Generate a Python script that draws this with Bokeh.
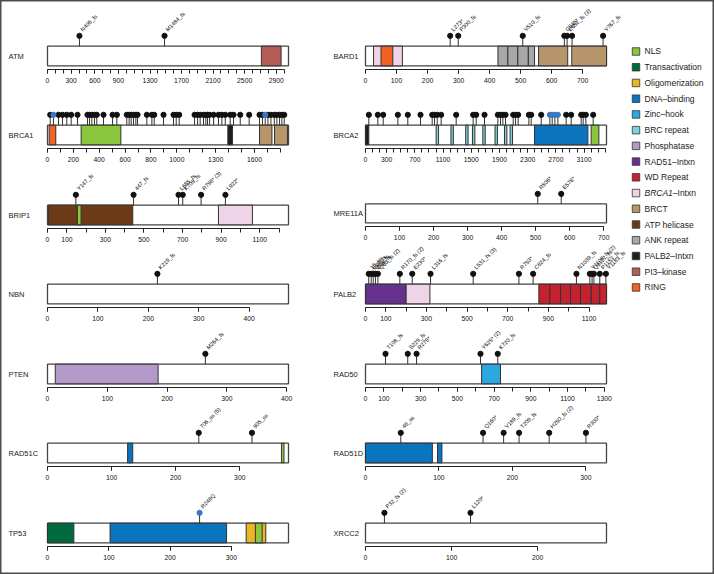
import math
from bokeh.plotting import figure
from bokeh.models import Range1d, FixedTicker, Label
from bokeh.layouts import row, column
from bokeh.embed import file_html
from bokeh.resources import INLINE
from bokeh.core.properties import value

FONT = "Liberation Sans"

# ---------------- data ----------------
DOMAIN_COLORS = {
    "NLS": "#8CC63F", "Transactivation": "#006A3C", "Oligomerization": "#EBB523",
    "DNA-binding": "#0A74BE", "Zinc-hook": "#2AA8E0", "BRC repeat": "#7DD0DF",
    "Phosphatase": "#B49ACB", "RAD51-Intxn": "#66308F", "WD Repeat": "#C4222E",
    "BRCA1-Intxn": "#EFD3E6", "BRCT": "#B8966B", "ATP helicase": "#6C3A16",
    "ANK repeat": "#A7A8AA", "PALB2-Intxn": "#1E1E1E", "PI3-kinase": "#B55C54",
    "RING": "#F26222",
}
LEGEND_KEYS = ["NLS", "Transactivation", "Oligomerization", "DNA-binding", "Zinc-hook",
               "BRC repeat", "Phosphatase", "RAD51-Intxn", "WD Repeat", "BRCA1-Intxn",
               "BRCT", "ATP helicase", "ANK repeat", "PALB2-Intxn", "PI3-kinase", "RING"]
LEGEND_TEXT = ["NLS", "Transactivation", "Oligomerization", "DNA\u2013binding", "Zinc\u2013hook",
               "BRC repeat", "Phosphatase", "RAD51\u2013Intxn", "WD Repeat", "BRCA1\u2013Intxn",
               "BRCT", "ATP helicase", "ANK repeat", "PALB2\u2013Intxn", "PI3\u2013kinase", "RING"]

ATM_LEN = 3056
ATM_TICKS = [0, 300, 600, 900, 1300, 1700, 2100, 2500, 2900]
ATM_DOM = [("PI3-kinase", 2712, 2962)]
ATM_MUT = [405, 1484]
ATM_MUT_LAB = ["N405_fs", "M1484_fs"]
ATM_MIS = []
ATM_MIS_LAB = []

BRCA1_LEN = 1863
BRCA1_TICKS = [0, 200, 400, 600, 800, 1000, 1300, 1600]
BRCA1_DOM = [("RING", 13, 64), ("NLS", 260, 567), ("PALB2-Intxn", 1394, 1430),
             ("BRCT", 1639, 1735), ("BRCT", 1755, 1855)]
BRCA1_MUT = [21, 85, 116, 149, 183, 232, 309, 325, 343, 363, 381, 433, 503, 536, 613, 631,
             647, 665, 683, 696, 768, 807, 825, 897, 974, 995, 1018, 1137, 1160, 1180, 1206,
             1224, 1237, 1253, 1284, 1322, 1348, 1374, 1412, 1438, 1490, 1559, 1639, 1662,
             1704, 1727, 1753, 1773, 1794, 1812, 1830]
BRCA1_MUT_LAB = []
BRCA1_MIS = [46, 1683]
BRCA1_MIS_LAB = []

BRIP1_LEN = 1249
BRIP1_TICKS = [0, 100, 300, 500, 700, 900, 1100]
BRIP1_DOM = [("ATP helicase", 5, 442), ("NLS", 155, 174), ("BRCA1-Intxn", 886, 1062)]
BRIP1_MUT = [147, 446, 679, 701, 796, 922]
BRIP1_MUT_LAB = ["Y147_fs", "447_fs", "L685_fs", "K703_fs", "R798* (3)", "L922*"]
BRIP1_MIS = []
BRIP1_MIS_LAB = []

NBN_LEN = 478
NBN_TICKS = [0, 100, 200, 300, 400]
NBN_DOM = []
NBN_MUT = [218]
NBN_MUT_LAB = ["K219_fs"]
NBN_MIS = []
NBN_MIS_LAB = []

PTEN_LEN = 403
PTEN_TICKS = [0, 100, 200, 300, 400]
PTEN_DOM = [("Phosphatase", 13, 185)]
PTEN_MUT = [264]
PTEN_MUT_LAB = ["M264_fs"]
PTEN_MIS = []
PTEN_MIS_LAB = []

RAD51C_LEN = 376
RAD51C_TICKS = [0, 100, 200, 300]
RAD51C_DOM = [("DNA-binding", 125, 133), ("NLS", 365, 369)]
RAD51C_MUT = [236, 319]
RAD51C_MUT_LAB = ["706_ss (5)", "905_ss"]
RAD51C_MIS = []
RAD51C_MIS_LAB = []

TP53_LEN = 393
TP53_TICKS = [0, 100, 200, 300]
TP53_DOM = [("Transactivation", 0, 43), ("DNA-binding", 102, 292),
            ("Oligomerization", 324, 356), ("NLS", 339, 350)]
TP53_MUT = []
TP53_MUT_LAB = []
TP53_MIS = [248]
TP53_MIS_LAB = ["R248Q"]

BARD1_LEN = 777
BARD1_TICKS = [0, 100, 200, 300, 400, 500, 600, 700]
BARD1_DOM = [("BRCA1-Intxn", 26, 119), ("RING", 50, 88), ("ANK repeat", 427, 459),
             ("ANK repeat", 459, 491), ("ANK repeat", 491, 525), ("ANK repeat", 525, 545),
             ("BRCT", 558, 652), ("BRCT", 665, 777)]
BARD1_MUT = [273, 299, 507, 641, 650, 666, 766]
BARD1_MUT_LAB = ["L273*", "P300_fs", "V510_fs", "C645*", "E652_fs (3)", "", "V767_fs"]
BARD1_MIS = []
BARD1_MIS_LAB = []

BRCA2_LEN = 3418
BRCA2_TICKS = [0, 300, 700, 1100, 1500, 1900, 2300, 2700, 3100]
BRCA2_DOM = [("PALB2-Intxn", 0, 47), ("BRC repeat", 1002, 1036), ("BRC repeat", 1212, 1246),
             ("BRC repeat", 1421, 1455), ("BRC repeat", 1517, 1551), ("BRC repeat", 1664, 1698),
             ("BRC repeat", 1837, 1871), ("BRC repeat", 1971, 2005), ("BRC repeat", 2051, 2085),
             ("DNA-binding", 2397, 3154), ("NLS", 3200, 3310)]
BRCA2_MUT = [47, 175, 251, 459, 600, 780, 946, 979, 1017, 1073, 1286, 1527, 1570, 1688,
             1877, 1915, 1948, 1986, 2095, 2128, 2165, 2317, 2350, 2492, 2846, 2917, 3059,
             3087, 3125, 3229]
BRCA2_MUT_LAB = []
BRCA2_MIS = [2615, 2648, 2686, 2728]
BRCA2_MIS_LAB = []

MRE11A_LEN = 708
MRE11A_TICKS = [0, 100, 200, 300, 400, 500, 600, 700]
MRE11A_DOM = []
MRE11A_MUT = [506, 575]
MRE11A_MUT_LAB = ["R506*", "E576*"]
MRE11A_MIS = []
MRE11A_MIS_LAB = []

PALB2_LEN = 1186
PALB2_TICKS = [0, 100, 300, 500, 700, 900, 1100]
PALB2_DOM = [("RAD51-Intxn", 0, 200), ("BRCA1-Intxn", 200, 317), ("WD Repeat", 853, 907),
             ("WD Repeat", 907, 960), ("WD Repeat", 960, 1009), ("WD Repeat", 1009, 1058),
             ("WD Repeat", 1058, 1111), ("WD Repeat", 1111, 1153), ("WD Repeat", 1153, 1186)]
PALB2_MUT = [16, 28, 38, 49, 61, 169, 230, 320, 530, 755, 825, 1038, 1104, 1115, 1124, 1153, 1183]
PALB2_MUT_LAB = ["16_ss", "L20_fs", "Q21_fs", "C37_fs", "Q60_fs (2)", "R170_fs (2)", "E230*",
                 "L316_fs", "L531_fs (3)", "R753*", "C824_fs", "N1039_fs", "Y1108_fs (2)",
                 "Q1127_fs", "", "P1153_fs", "Y1183_fs"]
PALB2_MIS = []
PALB2_MIS_LAB = []

RAD50_LEN = 1312
RAD50_TICKS = [0, 100, 300, 500, 700, 900, 1100, 1300]
RAD50_DOM = [("Zinc-hook", 632, 735)]
RAD50_MUT = [109, 230, 278, 626, 720]
RAD50_MUT_LAB = ["T108_fs", "S229_fs", "R278*", "Y625* (2)", "K720_fs"]
RAD50_MIS = []
RAD50_MIS_LAB = []

RAD51D_LEN = 328
RAD51D_TICKS = [0, 100, 200, 300]
RAD51D_DOM = [("DNA-binding", 0, 91), ("DNA-binding", 98, 104)]
RAD51D_MUT = [48, 160, 188, 209, 250, 300]
RAD51D_MUT_LAB = ["48_ss", "Q160*", "V189_fs", "T209_fs", "H250_fs (2)", "R300*"]
RAD51D_MIS = []
RAD51D_MIS_LAB = []

XRCC2_LEN = 280
XRCC2_TICKS = [0, 100, 200]
XRCC2_DOM = []
XRCC2_MUT = [22, 122]
XRCC2_MUT_LAB = ["P32_fs (2)", "L120*"]
XRCC2_MIS = []
XRCC2_MIS_LAB = []

LEFT_GENES = [
    ("ATM", ATM_LEN, ATM_TICKS, ATM_DOM, ATM_MUT, ATM_MUT_LAB, ATM_MIS, ATM_MIS_LAB),
    ("BRCA1", BRCA1_LEN, BRCA1_TICKS, BRCA1_DOM, BRCA1_MUT, BRCA1_MUT_LAB, BRCA1_MIS, BRCA1_MIS_LAB),
    ("BRIP1", BRIP1_LEN, BRIP1_TICKS, BRIP1_DOM, BRIP1_MUT, BRIP1_MUT_LAB, BRIP1_MIS, BRIP1_MIS_LAB),
    ("NBN", NBN_LEN, NBN_TICKS, NBN_DOM, NBN_MUT, NBN_MUT_LAB, NBN_MIS, NBN_MIS_LAB),
    ("PTEN", PTEN_LEN, PTEN_TICKS, PTEN_DOM, PTEN_MUT, PTEN_MUT_LAB, PTEN_MIS, PTEN_MIS_LAB),
    ("RAD51C", RAD51C_LEN, RAD51C_TICKS, RAD51C_DOM, RAD51C_MUT, RAD51C_MUT_LAB, RAD51C_MIS, RAD51C_MIS_LAB),
    ("TP53", TP53_LEN, TP53_TICKS, TP53_DOM, TP53_MUT, TP53_MUT_LAB, TP53_MIS, TP53_MIS_LAB),
]
RIGHT_GENES = [
    ("BARD1", BARD1_LEN, BARD1_TICKS, BARD1_DOM, BARD1_MUT, BARD1_MUT_LAB, BARD1_MIS, BARD1_MIS_LAB),
    ("BRCA2", BRCA2_LEN, BRCA2_TICKS, BRCA2_DOM, BRCA2_MUT, BRCA2_MUT_LAB, BRCA2_MIS, BRCA2_MIS_LAB),
    ("MRE11A", MRE11A_LEN, MRE11A_TICKS, MRE11A_DOM, MRE11A_MUT, MRE11A_MUT_LAB, MRE11A_MIS, MRE11A_MIS_LAB),
    ("PALB2", PALB2_LEN, PALB2_TICKS, PALB2_DOM, PALB2_MUT, PALB2_MUT_LAB, PALB2_MIS, PALB2_MIS_LAB),
    ("RAD50", RAD50_LEN, RAD50_TICKS, RAD50_DOM, RAD50_MUT, RAD50_MUT_LAB, RAD50_MIS, RAD50_MIS_LAB),
    ("RAD51D", RAD51D_LEN, RAD51D_TICKS, RAD51D_DOM, RAD51D_MUT, RAD51D_MUT_LAB, RAD51D_MIS, RAD51D_MIS_LAB),
    ("XRCC2", XRCC2_LEN, XRCC2_TICKS, XRCC2_DOM, XRCC2_MUT, XRCC2_MUT_LAB, XRCC2_MIS, XRCC2_MIS_LAB),
]

# ---------------- layout / style ----------------
BAR_H = 19.6          # bar thickness (px)
DOT_Y = 30.0          # lollipop head height above bar bottom (px)
AXIS_Y = -3.7         # axis line below bar bottom (px)
BAR_W = 241           # bar length (px)
ROW_HEIGHTS = {"left": [86, 79, 80, 79, 80, 79, 91], "right": [86, 79, 77, 82, 80, 79, 91]}
BAR_TOP_OFFSETS = {"left": [45.7, 39.0, 39.3, 39.0, 39.3, 38.7, 39.3],
                   "right": [45.7, 39.0, 39.3, 41.3, 39.3, 38.7, 39.3]}
TRUNC_COLOR = "#111111"
MIS_COLOR = "#3A78C2"


def lollipops(p, pos, labs, color):
    if not pos:
        return
    p.segment(x0=pos, y0=[BAR_H] * len(pos), x1=pos, y1=[DOT_Y] * len(pos),
              line_color="#333333", line_width=1)
    p.scatter(x=pos, y=[DOT_Y] * len(pos), size=5.2, fill_color=color, line_color=color)
    if labs:
        p.text(x=pos, y=[DOT_Y] * len(pos), text=labs, angle=math.pi / 4,
               text_font=value(FONT), text_font_size="5.6px", text_color="#000000",
               text_align="left", text_baseline="middle", x_offset=2, y_offset=-5.5)


def panel(gene, side, k):
    name, length, ticks, doms, mut, mut_lab, mis, mis_lab = gene
    if side == "left":
        w, pad_l, pad_r, lab_x = 328, 47, 40, 8
    else:
        w, pad_l, pad_r, lab_x = 298, 37, 20, 5
    h = ROW_HEIGHTS[side][k]
    s = BAR_W / length
    frame_h = int(round(BAR_TOP_OFFSETS[side][k] + BAR_H - AXIS_Y))
    p = figure(width=w, height=h, output_backend="svg", toolbar_location=None, tools="",
               x_range=Range1d(-pad_l / s, length + pad_r / s),
               y_range=Range1d(AXIS_Y, AXIS_Y + frame_h),
               min_border_left=0, min_border_right=0, min_border_top=0,
               min_border_bottom=h - frame_h, y_axis_location=None)
    p.grid.visible = False
    p.outline_line_color = None
    p.border_fill_color = None
    p.background_fill_color = None
    minor = list(range(0, int(length) + 1, 100))
    ax = p.xaxis[0]
    ax.ticker = FixedTicker(ticks=ticks, minor_ticks=minor)
    ax.bounds = (0, minor[-1])
    ax.axis_line_color = "#222222"
    ax.axis_line_width = 1
    ax.major_tick_line_color = "#222222"
    ax.minor_tick_line_color = "#222222"
    ax.major_tick_in = 0
    ax.major_tick_out = 4
    ax.minor_tick_in = 0
    ax.minor_tick_out = 4
    ax.major_label_standoff = 4
    ax.axis_label_standoff = 0
    ax.major_label_text_font = FONT
    ax.major_label_text_font_size = "6.8px"
    ax.major_label_text_color = "#111111"

    p.quad(left=[0], right=[length], bottom=[0], top=[BAR_H], fill_color="white",
           line_color="#444444", line_width=1.3)
    if doms:
        p.quad(left=[d[1] for d in doms], right=[d[2] for d in doms],
               bottom=[0] * len(doms), top=[BAR_H] * len(doms),
               fill_color=[DOMAIN_COLORS[d[0]] for d in doms],
               line_color="#333333", line_width=1)
    lollipops(p, mut, mut_lab, TRUNC_COLOR)
    lollipops(p, mis, mis_lab, MIS_COLOR)
    p.add_layout(Label(x=lab_x, y=BAR_H / 2, x_units="screen", y_units="data", text=name,
                       text_font=FONT, text_font_size="7.5px", text_color="#222222",
                       text_align="left", text_baseline="middle"))
    return p


left = column(*[panel(g, "left", k) for k, g in enumerate(LEFT_GENES)])
right = column(*[panel(g, "right", k) for k, g in enumerate(RIGHT_GENES)])

# legend panel
n = len(LEGEND_KEYS)
lg = figure(width=88, height=sum(ROW_HEIGHTS["left"]), output_backend="svg",
            toolbar_location=None, tools="", x_range=Range1d(0, 88),
            y_range=Range1d(33.25, -3.242),
            min_border_left=0, min_border_right=0, min_border_top=0, min_border_bottom=0,
            x_axis_location=None, y_axis_location=None)
lg.grid.visible = False
lg.outline_line_color = None
lg.border_fill_color = None
lg.background_fill_color = None
idx = list(range(n))
lg.scatter(x=[9.5] * n, y=idx, marker="square", size=7.5,
           fill_color=[DOMAIN_COLORS[k] for k in LEGEND_KEYS], line_color="#333333", line_width=0.8)
plain_idx = [i for i in idx if LEGEND_KEYS[i] != "BRCA1-Intxn"]
lg.text(x=[18] * len(plain_idx), y=plain_idx, text=[LEGEND_TEXT[i] for i in plain_idx],
        text_font=value(FONT), text_font_size="8.5px", text_color="#222222",
        text_align="left", text_baseline="middle")
bi = LEGEND_KEYS.index("BRCA1-Intxn")
lg.text(x=[18], y=[bi], text=["BRCA1"], text_font=value(FONT), text_font_size="8.5px",
        text_font_style="italic", text_color="#222222", text_align="left", text_baseline="middle")
lg.text(x=[18], y=[bi], text=["\u2013Intxn"], text_font=value(FONT), text_font_size="8.5px",
        text_color="#222222", text_align="left", text_baseline="middle", x_offset=28.3)

layout = row(left, right, lg)
layout.styles = {"background": "white", "box-shadow": "inset 0 0 0 1.5px #4d4d4d"}
open("out.html", "w").write(file_html(layout, INLINE))
